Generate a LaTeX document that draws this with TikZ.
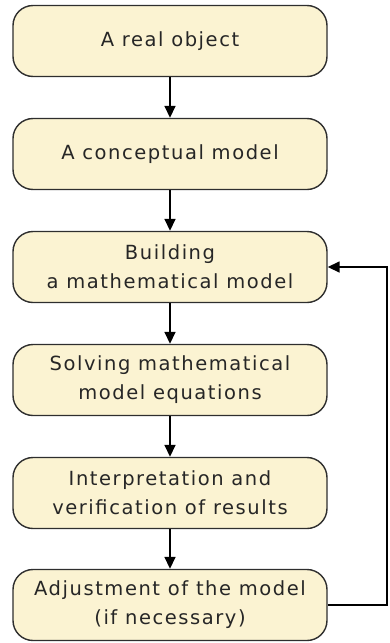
\documentclass[tikz,border=0pt]{standalone}
\usepackage{fontspec}
\setmainfont{DejaVu Sans}[LetterSpace=8]
\usetikzlibrary{arrows.meta}
\definecolor{boxfill}{HTML}{FBF3D2}
\definecolor{boxline}{HTML}{2E2E2E}
\tikzset{
  stage/.style={draw=boxline, fill=boxfill, line width=1.4pt, rounded corners=20pt,
    minimum width=314pt, minimum height=71pt, align=center, inner sep=0pt,
    font=\fontsize{19.5}{29}\selectfont, text=black!85},
  flow/.style={-{Triangle[length=12pt,width=11pt]}, line width=1.6pt, draw=black}
}
\begin{document}
\begin{tikzpicture}[x=1pt,y=-1pt]
\useasboundingbox (0,0) rectangle (389,643);
\node[stage] (s1) at (170,41) {A real object};
\node[stage] (s2) at (170,154) {A conceptual model};
\node[stage] (s3) at (170,267) {Building\\a mathematical model};
\node[stage] (s4) at (170,380) {Solving mathematical\\model equations};
\node[stage] (s5) at (170,493) {Interpretation and\\verification of results};
\node[stage] (s6) at (170,605) {Adjustment of the model\\(if necessary)};
\draw[flow] (s1) -- (s2);
\draw[flow] (s2) -- (s3);
\draw[flow] (s3) -- (s4);
\draw[flow] (s4) -- (s5);
\draw[flow] (s5) -- (s6);
\coordinate (c1) at (387,605);
\coordinate (c2) at (387,267);
\draw[flow] (s6.east) -- (c1) -- (c2) -- (s3.east);
\end{tikzpicture}
\end{document}
